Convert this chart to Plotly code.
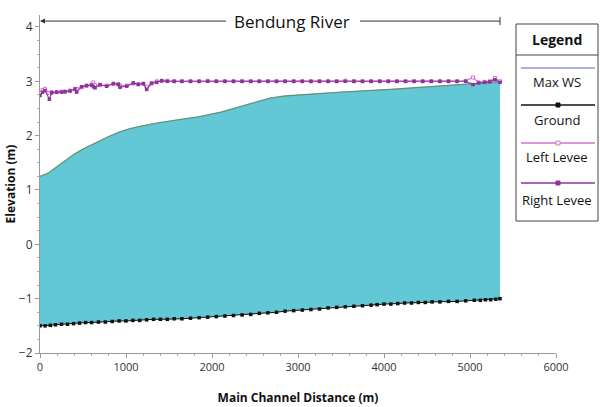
import plotly.graph_objects as go

# ---- data ----
ground_x = [0, 60, 120, 180, 250, 320, 390, 460, 530, 600, 680, 760, 840, 920, 1000, 1080, 1160, 1240,
            1320, 1400, 1480, 1560, 1650, 1750, 1850, 1950, 2050, 2150, 2250, 2350, 2450, 2550, 2650,
            2750, 2850, 2950, 3050, 3150, 3250, 3350, 3450, 3550, 3650, 3750, 3850, 3920, 4000, 4080,
            4160, 4240, 4320, 4400, 4480, 4560, 4650, 4750, 4850, 4950, 5050, 5120, 5180, 5240, 5300, 5349]
ground_y = [-1.50, -1.50, -1.49, -1.48, -1.47, -1.47, -1.46, -1.45, -1.44, -1.44, -1.43, -1.43, -1.42,
            -1.41, -1.41, -1.40, -1.40, -1.39, -1.38, -1.38, -1.38, -1.37, -1.37, -1.36, -1.35, -1.34,
            -1.33, -1.32, -1.31, -1.30, -1.29, -1.27, -1.26, -1.25, -1.23, -1.22, -1.21, -1.20, -1.19,
            -1.17, -1.16, -1.15, -1.14, -1.13, -1.12, -1.11, -1.10, -1.10, -1.09, -1.08, -1.08, -1.07,
            -1.07, -1.06, -1.06, -1.05, -1.05, -1.04, -1.03, -1.03, -1.02, -1.02, -1.01, -1.00]

ws_x = [0, 97, 200, 310, 400, 500, 600, 698, 810, 930, 1050, 1163, 1357, 1600, 1860, 2100, 2400, 2674,
        2850, 3023, 3500, 4070, 4500, 5000, 5349]
ws_y = [1.25, 1.31, 1.43, 1.56, 1.66, 1.75, 1.83, 1.90, 1.99, 2.07, 2.13, 2.17, 2.23, 2.29, 2.35, 2.43,
        2.56, 2.69, 2.73, 2.75, 2.80, 2.85, 2.90, 2.96, 2.99]

levee_x = [0, 30, 58, 109, 136, 194, 250, 291, 349, 407, 426, 484, 540, 601, 620, 640, 698, 775, 853,
           911, 930, 1008, 1085, 1143, 1202, 1240, 1298, 1357, 1415, 1480, 1560, 1650, 1750, 1850, 1950,
           2050, 2150, 2250, 2350, 2450, 2550, 2650, 2750, 2850, 2950, 3050, 3150, 3250, 3350, 3450,
           3550, 3650, 3750, 3850, 3950, 4050, 4150, 4250, 4350, 4450, 4550, 4650, 4750, 4850, 4950,
           5035, 5100, 5170, 5230, 5290, 5349]
right_levee = [2.74, 2.80, 2.83, 2.67, 2.79, 2.80, 2.80, 2.81, 2.82, 2.86, 2.80, 2.90, 2.92, 2.93, 2.90,
               2.88, 2.94, 2.91, 2.96, 2.94, 2.89, 2.91, 2.97, 2.94, 2.96, 2.85, 2.96, 2.98, 3.01, 3.00,
               3.00, 3.00, 3.00, 3.00, 3.00, 3.00, 3.00, 3.00, 3.00, 3.00, 3.00, 3.00, 3.00, 3.00, 3.00,
               3.00, 3.00, 3.00, 3.00, 3.00, 3.00, 3.00, 3.00, 3.00, 3.00, 3.00, 3.00, 3.00, 3.00, 3.00,
               3.00, 3.00, 3.00, 3.00, 3.00, 2.94, 2.97, 2.98, 2.99, 3.03, 2.98]
left_levee = [2.78, 2.84, 2.86, 2.78, 2.80, 2.80, 2.81, 2.81, 2.83, 2.85, 2.86, 2.89, 2.92, 2.94, 2.98,
              2.93, 2.93, 2.92, 2.95, 2.95, 2.92, 2.92, 2.96, 2.95, 2.95, 2.90, 2.97, 3.00, 3.01, 3.01,
              3.00, 3.00, 3.00, 3.00, 3.01, 3.00, 3.00, 3.00, 3.00, 3.00, 3.00, 3.00, 3.00, 3.00, 3.00,
              3.00, 3.00, 3.00, 3.00, 3.00, 3.01, 3.00, 3.00, 3.00, 3.00, 3.00, 3.00, 3.00, 3.00, 3.00,
              3.00, 3.00, 3.00, 3.00, 3.01, 3.07, 2.98, 2.99, 3.00, 3.06, 3.00]

x_ticks = [0, 1000, 2000, 3000, 4000, 5000, 6000]
y_ticks = [-2, -1, 0, 1, 2, 3, 4]
chart_title = "Bendung River"
legend_labels = ["Max WS", "Ground", "Left Levee", "Right Levee"]

# ---- styles ----
FILL = "#62C8D6"
WS_COL = "#5A62C8"
GROUND_COL = "#111111"
LEFT_COL = "#CC77CC"
RIGHT_COL = "#8E3399"
FONT = "Open Sans"

fig = go.Figure()
# base for fill
fig.add_trace(go.Scatter(x=ground_x, y=ground_y, mode="lines", line=dict(width=0, color=FILL),
                         showlegend=False, hoverinfo="skip"))
fig.add_trace(go.Scatter(x=ws_x, y=ws_y, mode="lines", fill="tonexty", fillcolor=FILL,
                         line=dict(color="#6DBE5A", width=1.4), showlegend=False))
fig.add_trace(go.Scatter(x=ws_x, y=ws_y, mode="lines", line=dict(color=WS_COL, width=0.6),
                         name="Max WS", showlegend=False))
fig.add_trace(go.Scatter(x=ground_x, y=ground_y, mode="lines+markers",
                         line=dict(color=GROUND_COL, width=1),
                         marker=dict(color=GROUND_COL, size=3.5, symbol="square"),
                         name="Ground", showlegend=False))
fig.add_trace(go.Scatter(x=levee_x, y=left_levee, mode="lines+markers",
                         line=dict(color=LEFT_COL, width=1.1),
                         marker=dict(color="white", size=3, symbol="square",
                                     line=dict(color=LEFT_COL, width=1)),
                         name="Left Levee", showlegend=False))
fig.add_trace(go.Scatter(x=levee_x, y=right_levee, mode="lines+markers",
                         line=dict(color=RIGHT_COL, width=1.1),
                         marker=dict(color=RIGHT_COL, size=3.5, symbol="square"),
                         name="Right Levee", showlegend=False))

# reach indicator with title
y_reach = 0.982
fig.add_annotation(x=0, y=y_reach, xref="x", yref="paper", ax=2180, ay=0,
                   axref="x", ayref="pixel", text="", showarrow=True, arrowhead=2,
                   arrowsize=1, arrowwidth=1, arrowcolor="#333")
fig.add_shape(type="line", xref="x", yref="paper", x0=3720, x1=5349, y0=y_reach, y1=y_reach,
              line=dict(color="#333", width=1))
fig.add_shape(type="line", xref="x", yref="paper", x0=5349, x1=5349, y0=y_reach - 0.012,
              y1=y_reach + 0.012, line=dict(color="#333", width=1))
fig.add_annotation(x=2930, y=y_reach, xref="x", yref="paper", text=chart_title, showarrow=False,
                   font=dict(family=FONT, size=17, color="#111"), xanchor="center", yanchor="middle")

# custom legend box (pixel -> paper conversion)
L, R, T, B = 40, 44, 15, 54
W, H = 600 - L - R, 407 - T - B
px = lambda x: (x - L) / W
py = lambda y: (407 - B - y) / H

fig.add_shape(type="rect", xref="paper", yref="paper", x0=px(516), x1=px(598), y0=py(221), y1=py(24),
              line=dict(color="#444", width=1), fillcolor="white", layer="above")
fig.add_shape(type="line", xref="paper", yref="paper", x0=px(516), x1=px(598), y0=py(55), y1=py(55),
              line=dict(color="#444", width=1))
fig.add_annotation(x=px(557), y=py(39), xref="paper", yref="paper", text="<b>Legend</b>",
                   xanchor="center", yanchor="middle",
                   showarrow=False, font=dict(family=FONT, size=14, color="#111"))
sample_y = [68, 105, 143, 183]
label_y = [82, 120, 157, 200]
sample_cols = [WS_COL, GROUND_COL, LEFT_COL, RIGHT_COL]
marker_fill = [None, GROUND_COL, "white", RIGHT_COL]
for i, lab in enumerate(legend_labels):
    fig.add_shape(type="line", xref="paper", yref="paper", x0=px(521), x1=px(595),
                  y0=py(sample_y[i]), y1=py(sample_y[i]),
                  line=dict(color=sample_cols[i], width=1.3 if i else 1))
    if marker_fill[i]:
        fig.add_shape(type="rect", xref="paper", yref="paper", x0=px(556), x1=px(560),
                      y0=py(sample_y[i] + 2), y1=py(sample_y[i] - 2),
                      line=dict(color=sample_cols[i], width=1), fillcolor=marker_fill[i])
    fig.add_annotation(x=px(557), y=py(label_y[i]), xref="paper", yref="paper", text=lab,
                       xanchor="center", yanchor="middle",
                       showarrow=False, font=dict(family=FONT, size=13, color="#111"))

fig.update_layout(
    width=600, height=407,
    margin=dict(l=L, r=R, t=T, b=B, autoexpand=False),
    paper_bgcolor="white", plot_bgcolor="white",
    font=dict(family=FONT, color="#333"),
    showlegend=False,
    xaxis=dict(range=[0, 6000], tickvals=x_ticks, showgrid=False, zeroline=False, automargin=False,
               showline=True, linecolor="#999", linewidth=1, ticks="outside", ticklen=4,
               tickcolor="#999", tickfont=dict(size=11, color="#333"),
               minor=dict(dtick=200, ticks="outside", ticklen=2, tickcolor="#aaa"),
               title=dict(text="<b>Main Channel Distance (m)</b>", font=dict(size=12, color="#111"),
                          standoff=20)),
    yaxis=dict(range=[-2, 4.22], tickvals=y_ticks, showgrid=False, zeroline=False, automargin=False,
               showline=True, linecolor="#999", linewidth=1, ticks="outside", ticklen=4,
               tickcolor="#999", tickfont=dict(size=12, color="#333"),
               minor=dict(dtick=0.25, ticks="outside", ticklen=2, tickcolor="#aaa"),
               title=dict(text="<b>Elevation (m)</b>", font=dict(size=12, color="#111"),
                          standoff=0)),
)

fig.write_html("out.html", config={"displayModeBar": False},
               post_script="document.body.style.margin='0';document.body.style.overflow='hidden';")
